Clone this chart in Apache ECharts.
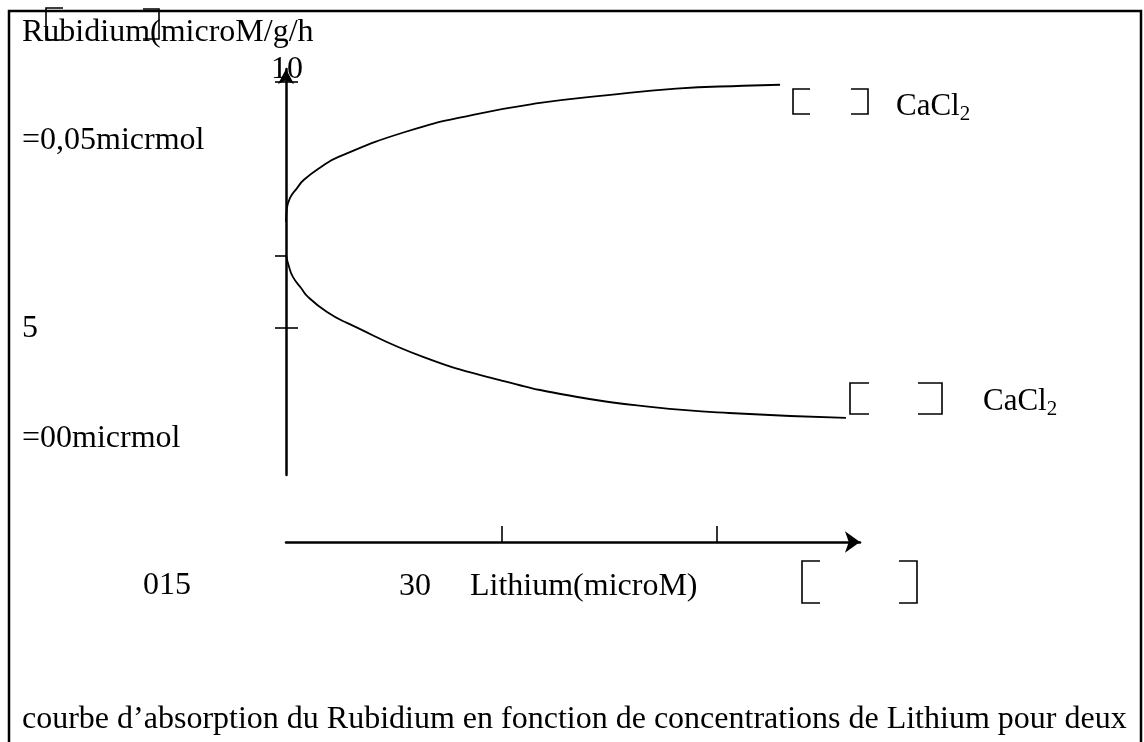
<!DOCTYPE html>
<html>
<head>
<meta charset="utf-8">
<script src="https://cdn.jsdelivr.net/npm/echarts@6/dist/echarts.min.js"></script>
<style>
  html, body { margin: 0; padding: 0; background: #fff; }
  #chart { width: 1144px; height: 742px; }
</style>
</head>
<body>
<div id="chart"></div>
<script>
// lithium concentration (x) and rubidium absorption (y)
const upperLithium = [0, 0.05, 0.28, 0.77, 1.25, 2.44, 3.62, 8.29, 13.03, 17.70, 22.44, 27.18, 31.85, 34.43];
const upperRubidium = [7.14, 7.39, 7.63, 7.83, 8.00, 8.26, 8.46, 8.97, 9.32, 9.56, 9.72, 9.85, 9.91, 9.93];
const lowerLithium = [0, 0.21, 0.49, 1.05, 1.53, 2.86, 4.25, 9.55, 14.91, 20.21, 25.57, 30.87, 39.02];
const lowerRubidium = [6.47, 6.23, 6.02, 5.80, 5.62, 5.31, 5.09, 4.40, 3.93, 3.59, 3.38, 3.26, 3.16];

// ticks
const xTicks = [15, 30];
const yTicksLeft = [10, 6.45, 5];
const yTicksCross = [10, 5];

const FONT = '"Liberation Serif", "Times New Roman", serif';

const chart = echarts.init(document.getElementById('chart'));

const pairs = (xs, ys) => xs.map((x, i) => [x, ys[i]]);

// text helper
const txt = (text, x, y, size, align) => ({
  type: 'text',
  x: x,
  y: y,
  style: {
    text: text,
    font: (size || 32) + 'px ' + FONT,
    fill: '#000',
    align: align || 'left',
    verticalAlign: 'middle'
  }
});

// "[" and "]" shapes
const leftBracket = (x, y1, y2, w) => ({
  type: 'polyline',
  shape: { points: [[x + w, y1], [x, y1], [x, y2], [x + w, y2]] },
  style: { stroke: '#000', lineWidth: 1.6, fill: null }
});
const rightBracket = (x, y1, y2, w) => ({
  type: 'polyline',
  shape: { points: [[x - w, y1], [x, y1], [x, y2], [x - w, y2]] },
  style: { stroke: '#000', lineWidth: 1.6, fill: null }
});

const cacl = (x, y) => ({
  type: 'text',
  x: x,
  y: y,
  style: {
    text: '{n|CaCl}{s|2}',
    verticalAlign: 'middle',
    rich: {
      n: { font: '31px ' + FONT, fill: '#000' },
      s: { font: '21px ' + FONT, fill: '#000', padding: [14, 0, 0, 0] }
    }
  }
});

const option = {
  backgroundColor: '#fff',
  animation: false,
  grid: { left: 286, right: 284, top: 69, bottom: 267 },
  xAxis: {
    type: 'value',
    min: 0,
    max: 40,
    position: 'bottom',
    offset: 67,
    splitLine: { show: false },
    axisLine: {
      show: true,
      symbol: ['none', 'arrow'],
      symbolSize: [16, 15],
      lineStyle: { color: '#000', width: 2.5 }
    },
    axisTick: {
      show: true,
      inside: true,
      length: 16,
      customValues: xTicks,
      lineStyle: { color: '#000', width: 1.6 }
    },
    axisLabel: { show: false }
  },
  yAxis: [
    {
      type: 'value',
      min: 2,
      max: 10.25,
      position: 'left',
      splitLine: { show: false },
      axisLine: {
        show: true,
        symbol: ['none', 'arrow'],
        symbolSize: [12, 15],
        lineStyle: { color: '#000', width: 2.5 }
      },
      axisTick: {
        show: true,
        length: 11,
        customValues: yTicksLeft,
        lineStyle: { color: '#000', width: 1.6 }
      },
      axisLabel: { show: false }
    },
    {
      type: 'value',
      min: 2,
      max: 10.25,
      position: 'left',
      splitLine: { show: false },
      axisLine: { show: false },
      axisTick: {
        show: true,
        inside: true,
        length: 12,
        customValues: yTicksCross,
        lineStyle: { color: '#000', width: 1.6 }
      },
      axisLabel: { show: false }
    }
  ],
  series: [
    {
      name: 'CaCl2 haut',
      type: 'line',
      data: pairs(upperLithium, upperRubidium),
      smooth: 0.5,
      showSymbol: false,
      lineStyle: { color: '#000', width: 1.8 }
    },
    {
      name: 'CaCl2 bas',
      type: 'line',
      data: pairs(lowerLithium, lowerRubidium),
      smooth: 0.5,
      showSymbol: false,
      lineStyle: { color: '#000', width: 1.8 }
    }
  ],
  graphic: [
    // frame of the figure
    {
      type: 'rect',
      shape: { x: 9, y: 11, width: 1132, height: 800 },
      style: { stroke: '#000', lineWidth: 2.5, fill: null }
    },
    txt('Rubidium(microM/g/h', 22, 33),
    txt('10', 287, 70, 32, 'center'),
    txt('=0,05micrmol', 22, 141),
    txt('5', 22, 329),
    txt('=00micrmol', 22, 439),
    txt('015', 143, 586),
    txt('30', 399, 587),
    txt('Lithium(microM)', 470, 587),
    txt('courbe d\u2019absorption du Rubidium en fonction de concentrations de Lithium pour deux', 22, 720),
    cacl(896, 107),
    cacl(983, 402),
    // bracket shapes
    leftBracket(46, 8, 40, 17),
    rightBracket(159, 9, 39, 16),
    leftBracket(793, 89, 114, 17),
    rightBracket(868, 89, 114, 17),
    leftBracket(850, 383, 414, 19),
    rightBracket(942, 383, 414, 24),
    leftBracket(802, 561, 603, 18),
    rightBracket(917, 561, 603, 18)
  ]
};

chart.setOption(option);
</script>
</body>
</html>
